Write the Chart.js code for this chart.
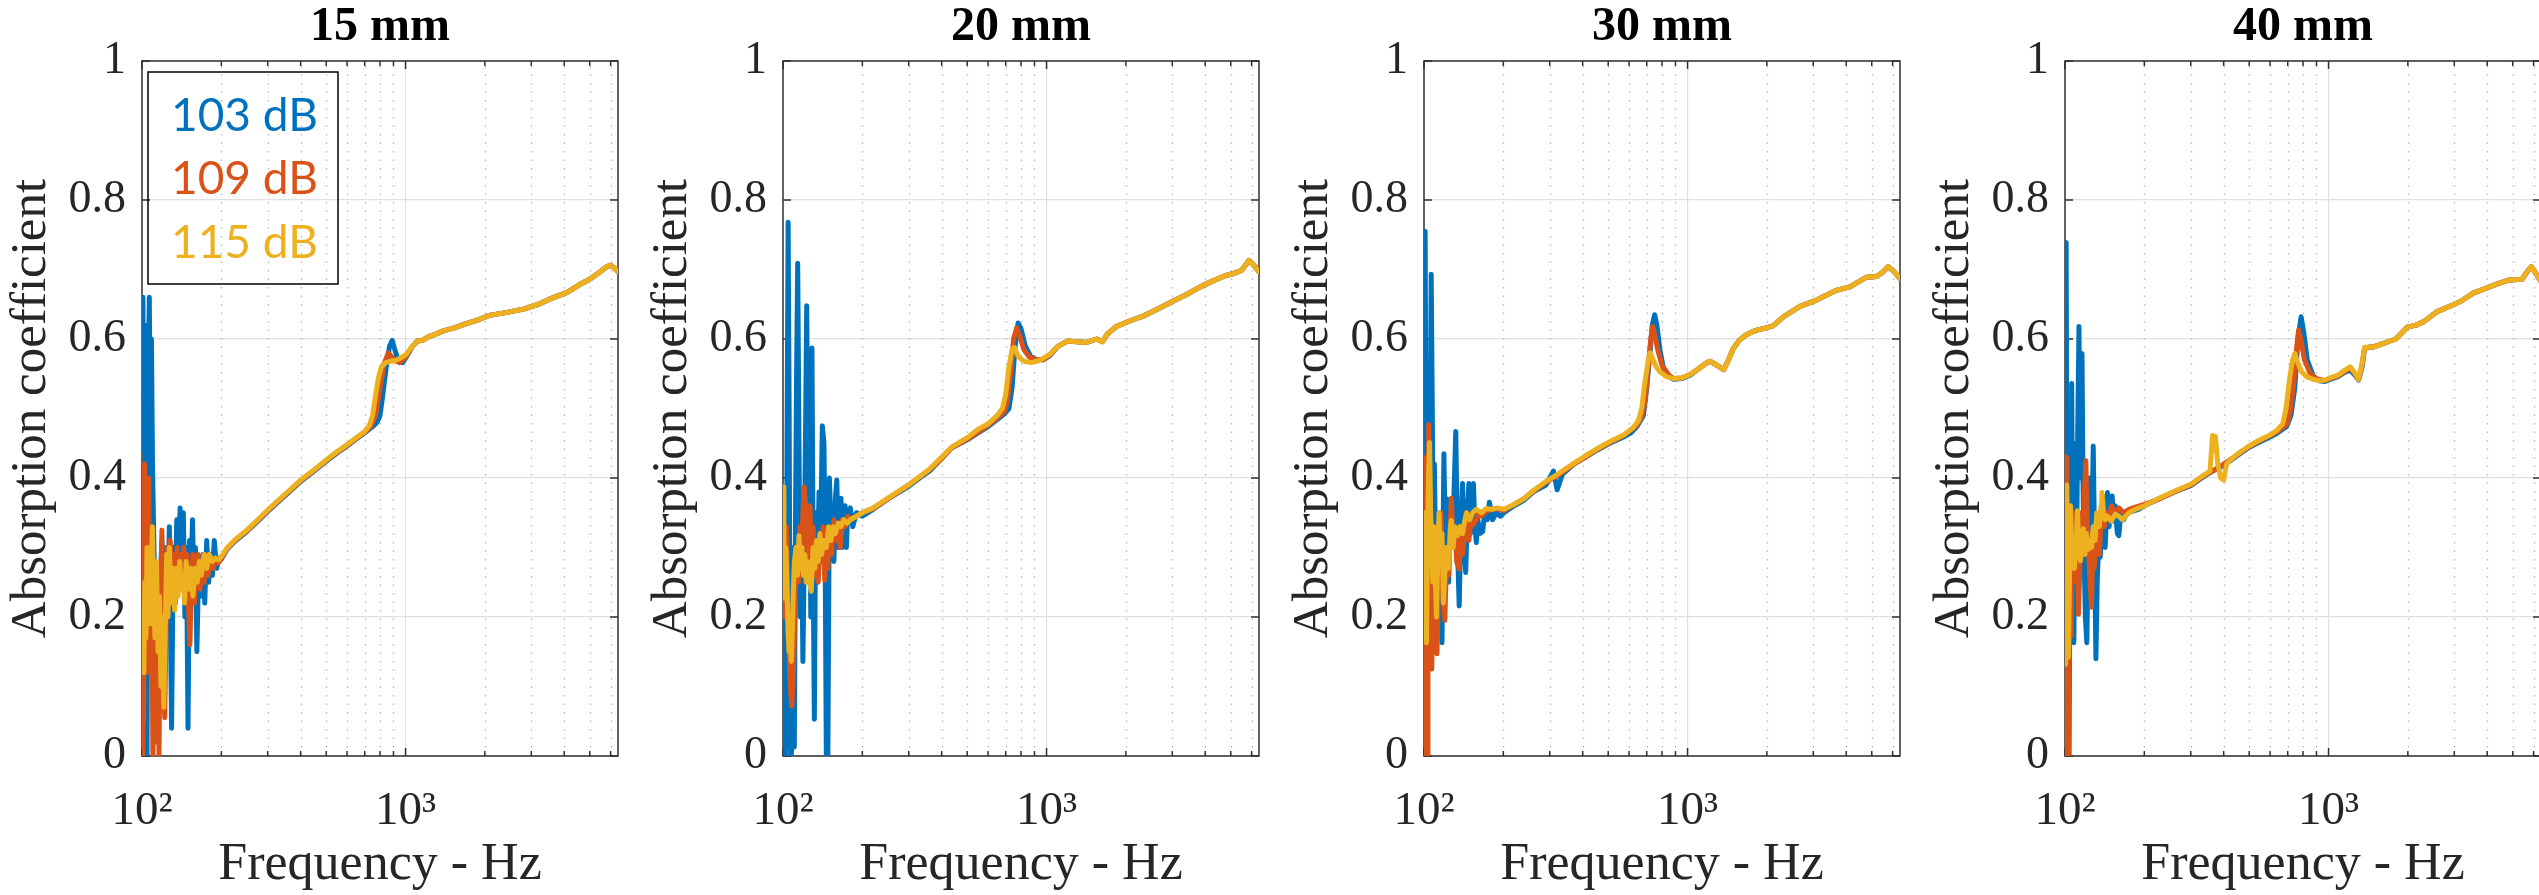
<!DOCTYPE html>
<html><head><meta charset="utf-8">
<style>
html,body{margin:0;padding:0;background:#fff;overflow:hidden;width:2539px;height:895px;position:relative}
.p{position:absolute;top:0;width:641px;height:895px}
</style>
<script src="https://cdn.jsdelivr.net/npm/chart.js@4.4.1/dist/chart.umd.min.js"></script>
</head><body>
<div class="p" style="left:0px"><canvas id="c0" width="641" height="895"></canvas></div>
<div class="p" style="left:641px"><canvas id="c1" width="641" height="895"></canvas></div>
<div class="p" style="left:1282px"><canvas id="c2" width="641" height="895"></canvas></div>
<div class="p" style="left:1923px"><canvas id="c3" width="641" height="895"></canvas></div>
<script>
const panelTitles = ['15 mm','20 mm','30 mm','40 mm'];
const seriesLabels = ['103 dB','109 dB','115 dB'];
const seriesColors = ['#0072BD','#D95319','#EDB120'];
const xMajorTicks = [100, 1000];
const xTickLabels = ['10²','10³'];
const xMinorTicks = [200,300,400,500,600,700,800,900,2000,3000,4000,5000,6000];
const yTicks = [0,0.2,0.4,0.6,0.8,1];
const yTickLabels = ['0','0.2','0.4','0.6','0.8','1'];
const xMin = 100, xMax = 6400;

// ---- 15 mm ----
const p15_103 = [[100,0.48],[100.8,0.66],[101.6,0.44],[102.4,0.62],[103.4,0.3],[104.5,0],[105.6,0.55],[106.6,0.66],[107.6,0.43],[108.6,0.6],[109.6,0.42],[111,0.3],[112.5,0.17],[114,0.27],[115.5,0.13],[117,0.24],[119,0.31],[121,0.1],[123,0.3],[125,0.2],[127,0.33],[129.5,0.04],[131.5,0.3],[133.5,0.23],[135.5,0.34],[137.5,0.28],[139.5,0.357],[141.5,0.27],[143.5,0.35],[145.5,0.2],[147.5,0.3],[149.5,0.04],[151.5,0.31],[153.5,0.26],[155.5,0.34],[157.5,0.22],[159.5,0.3],[161.5,0.15],[164,0.27],[167,0.23],[170,0.29],[173,0.22],[176,0.31],[179,0.25],[182,0.29],[185,0.26],[188,0.31],[192,0.27],[196,0.285],[200,0.283],[210,0.297],[225,0.309],[250,0.323],[275,0.338],[300,0.352],[350,0.375],[400,0.395],[450,0.41],[500,0.424],[550,0.436],[600,0.446],[650,0.456],[700,0.465],[750,0.474],[780,0.48],[800,0.49],[820,0.52],[845,0.56],[870,0.59],[890,0.598],[910,0.585],[940,0.568],[975,0.566],[1010,0.575]];
const p15_109 = [[100,0],[100.7,0.3],[101.4,0.05],[102.2,0.42],[103,0.2],[104,0.38],[105,0.12],[106,0.4],[107.2,0.15],[108.5,0.32],[110,0],[111.5,0.2],[113,0.02],[114.5,0.25],[116,0],[117.5,0.22],[119,0.325],[120.5,0.12],[122,0.055],[123.5,0.2],[125,0.3],[126.5,0.22],[128,0.31],[130,0.25],[132,0.29],[134,0.22],[136,0.3],[138,0.26],[140,0.29],[142,0.24],[144,0.3],[146,0.26],[148,0.29],[150,0.22],[152,0.16],[154,0.25],[156,0.29],[158,0.22],[160,0.28],[163,0.29],[166,0.24],[169,0.28],[172,0.25],[175,0.29],[178,0.26],[182,0.28],[186,0.27],[190,0.28],[195,0.278],[200,0.284],[210,0.298],[225,0.31],[250,0.324],[275,0.339],[300,0.353],[350,0.376],[400,0.396],[450,0.411],[500,0.425],[550,0.437],[600,0.447],[650,0.457],[700,0.466],[740,0.475],[770,0.49],[800,0.53],[830,0.565],[860,0.58],[880,0.576],[910,0.569],[950,0.566],[1000,0.574]];
const p15_115 = [[100,0.14],[100.8,0.2],[101.6,0.12],[102.5,0.25],[103.5,0.17],[104.5,0.3],[105.5,0.2],[106.5,0.24],[107.5,0.19],[108.5,0.28],[109.5,0.33],[110.5,0.25],[112,0.17],[113.5,0.28],[115,0.15],[116.5,0.23],[118,0.1],[119.5,0.2],[121,0.07],[122.5,0.18],[124,0.29],[125.5,0.2],[127,0.3],[129,0.22],[131,0.27],[133,0.21],[135,0.27],[137,0.23],[139,0.28],[141,0.24],[143,0.26],[145,0.22],[147,0.28],[150,0.24],[153,0.27],[156,0.23],[159,0.27],[162,0.25],[165,0.28],[168,0.26],[172,0.29],[176,0.27],[180,0.29],[185,0.28],[190,0.285],[195,0.282],[200,0.287],[210,0.299],[225,0.311],[250,0.325],[275,0.34],[300,0.354],[350,0.377],[400,0.397],[450,0.412],[500,0.426],[550,0.438],[600,0.448],[650,0.458],[700,0.467],[730,0.476],[750,0.49],[770,0.52],[790,0.545],[810,0.56],[840,0.566],[880,0.568],[930,0.57],[1000,0.577]];
const tail15 = [[1060,0.589],[1110,0.597],[1160,0.598],[1220,0.603],[1300,0.607],[1400,0.612],[1530,0.616],[1700,0.622],[1900,0.628],[2080,0.634],[2400,0.638],[2800,0.643],[3200,0.65],[3500,0.657],[4100,0.667],[4560,0.678],[5000,0.686],[5400,0.695],[5800,0.704],[6000,0.706],[6200,0.702],[6400,0.697]];

// ---- 20 mm ----
const p20_103 = [[100,0.33],[100.8,0.05],[101.6,0],[102.6,0],[103.6,0.45],[104.6,0.768],[105.5,0.5],[106.4,0.1],[107.4,0],[108.4,0.02],[109.4,0.3],[110.4,0.013],[111.6,0.35],[112.6,0.55],[113.7,0.709],[115,0.45],[116.3,0.2],[117.6,0.32],[119,0.136],[120.5,0.3],[122,0.5],[123,0.648],[124.5,0.4],[126,0.467],[127.5,0.2],[128.8,0.587],[130,0.3],[131.5,0.053],[133,0.35],[135,0.25],[137,0.38],[139,0.32],[141,0.475],[143,0.45],[144.5,0.3],[146,0],[148,0],[150,0.4],[152,0.33],[154,0.36],[156,0.28],[158,0.37],[160,0.397],[162,0.3],[164,0.33],[166,0.371],[168,0.3],[170,0.35],[172,0.36],[174,0.3],[176,0.35],[180,0.357],[184,0.33],[190,0.35],[200,0.345],[220,0.355],[250,0.37],[300,0.388],[330,0.4],[360,0.41],[400,0.428],[435,0.443],[500,0.455],[550,0.465],[600,0.474],[650,0.484],[690,0.492],[720,0.5],[740,0.53],[760,0.59],[780,0.623],[800,0.615],[830,0.59],[870,0.575],[920,0.57],[970,0.57],[1030,0.576]];
const p20_109 = [[100,0.205],[101,0.3],[102,0.2],[103,0.33],[104,0.25],[105,0.18],[106,0.12],[107,0.09],[108,0.072],[109,0.1],[110,0.15],[111.5,0.25],[113,0.3],[114.5,0.25],[116,0.33],[117.5,0.28],[119,0.35],[120.5,0.387],[122,0.3],[123.5,0.34],[125,0.27],[126.5,0.36],[128,0.3],[130,0.33],[132,0.26],[134,0.3],[136,0.25],[138,0.31],[140,0.28],[142,0.33],[144,0.253],[146,0.3],[148,0.27],[150,0.33],[153,0.29],[156,0.34],[159,0.31],[162,0.33],[165,0.3],[168,0.34],[172,0.33],[176,0.345],[180,0.34],[190,0.345],[200,0.35],[220,0.356],[250,0.37],[300,0.39],[360,0.412],[400,0.428],[435,0.443],[500,0.456],[550,0.466],[600,0.476],[650,0.486],[690,0.495],[710,0.51],[730,0.55],[750,0.6],[770,0.616],[790,0.605],[820,0.585],[860,0.574],[920,0.57],[970,0.57],[1030,0.577]];
const p20_115 = [[100,0.387],[100.8,0.3],[101.6,0.227],[102.5,0.3],[103.5,0.25],[104.5,0.18],[105.5,0.15],[106.5,0.2],[107.5,0.136],[108.5,0.18],[109.5,0.24],[110.5,0.28],[112,0.3],[113.5,0.26],[115,0.317],[116.5,0.27],[118,0.3],[119.5,0.26],[121,0.29],[122.5,0.25],[124,0.28],[126,0.25],[128,0.237],[130,0.3],[132,0.27],[134,0.31],[136,0.28],[138,0.32],[140,0.29],[143,0.31],[146,0.3],[149,0.33],[152,0.31],[155,0.33],[158,0.32],[162,0.335],[166,0.33],[170,0.34],[175,0.335],[180,0.34],[190,0.345],[200,0.35],[220,0.357],[250,0.371],[300,0.39],[360,0.413],[400,0.43],[435,0.444],[500,0.458],[550,0.47],[600,0.478],[650,0.49],[680,0.5],[700,0.52],[720,0.56],[740,0.585],[755,0.588],[780,0.575],[820,0.568],[870,0.566],[920,0.568],[970,0.572],[1030,0.578]];
const tail20 = [[1100,0.589],[1200,0.597],[1300,0.596],[1420,0.595],[1550,0.6],[1630,0.596],[1700,0.607],[1840,0.618],[2100,0.627],[2330,0.633],[2700,0.645],[3000,0.654],[3400,0.664],[3830,0.675],[4300,0.684],[4760,0.691],[5200,0.695],[5500,0.699],[5860,0.713],[6100,0.707],[6400,0.697]];

// ---- 30 mm ----
const p30_103 = [[100,0.333],[100.6,0.6],[101,0.755],[101.8,0.4],[102.6,0.2],[103.5,0.5],[104.5,0.3],[105.5,0.45],[106.5,0.693],[107.5,0.5],[108.5,0.3],[109.5,0.42],[111,0.25],[112.5,0.35],[114,0.2],[115.5,0.3],[117,0.163],[118,0.3],[119,0.435],[120.5,0.3],[122,0.37],[124,0.25],[126,0.35],[128,0.3],[130,0.38],[132,0.467],[134,0.3],[136,0.216],[138,0.33],[140,0.392],[142,0.3],[144,0.264],[146,0.35],[148,0.392],[150,0.32],[152,0.36],[154,0.392],[156,0.33],[158,0.307],[160,0.34],[163,0.32],[167,0.323],[170,0.35],[174,0.34],[177,0.365],[182,0.34],[188,0.35],[195,0.345],[201,0.35],[220,0.36],[239,0.368],[260,0.38],[290,0.39],[310,0.41],[320,0.383],[335,0.405],[370,0.42],[410,0.43],[453,0.44],[500,0.449],[572,0.459],[610,0.465],[643,0.474],[680,0.49],[700,0.53],[720,0.58],[735,0.62],[750,0.635],[765,0.62],[785,0.585],[812,0.556],[850,0.546],[885,0.542],[950,0.543],[1024,0.548]];
const p30_109 = [[100,0.429],[100.6,0.3],[101.3,0.1],[102,0],[102.8,0],[103.5,0.3],[104.2,0.477],[105,0.35],[106,0.2],[107,0.125],[108.5,0.25],[110,0.2],[112,0.147],[114,0.28],[116,0.35],[118,0.25],[120,0.195],[122,0.3],[124,0.26],[126,0.34],[127,0.371],[129,0.3],[131,0.33],[133,0.28],[136,0.269],[138,0.32],[140,0.29],[143,0.33],[145,0.35],[148,0.31],[151,0.34],[154,0.333],[158,0.34],[161,0.35],[165,0.345],[170,0.35],[175,0.353],[182,0.355],[190,0.356],[201,0.353],[220,0.362],[239,0.37],[260,0.381],[290,0.394],[320,0.403],[370,0.42],[410,0.43],[453,0.441],[500,0.45],[572,0.461],[643,0.476],[670,0.488],[690,0.51],[710,0.56],[725,0.6],[738,0.618],[752,0.605],[770,0.585],[800,0.562],[850,0.548],[885,0.543],[950,0.544],[1024,0.549]];
const p30_115 = [[100,0.259],[100.7,0.35],[101.4,0.2],[102.2,0.163],[103,0.3],[104,0.4],[105,0.451],[106,0.35],[107,0.3],[108,0.25],[109,0.33],[110,0.28],[111.5,0.2],[113,0.3],[114,0.35],[115.5,0.28],[117,0.32],[118.5,0.22],[120,0.264],[122,0.3],[124,0.27],[126,0.33],[127,0.339],[129,0.3],[131,0.33],[134,0.317],[137,0.33],[140,0.32],[143,0.34],[145,0.35],[149,0.34],[153,0.35],[158,0.355],[165,0.35],[172,0.356],[180,0.355],[190,0.357],[201,0.355],[220,0.362],[239,0.37],[260,0.382],[290,0.395],[320,0.405],[370,0.421],[410,0.432],[453,0.442],[500,0.451],[572,0.462],[620,0.472],[650,0.482],[670,0.5],[690,0.54],[710,0.57],[721,0.58],[740,0.57],[760,0.56],[790,0.552],[830,0.546],[885,0.543],[950,0.544],[1024,0.549]];
const tail30 = [[1100,0.557],[1185,0.566],[1220,0.568],[1280,0.563],[1372,0.556],[1430,0.57],[1490,0.586],[1570,0.598],[1670,0.606],[1800,0.612],[1940,0.615],[2110,0.619],[2310,0.632],[2670,0.647],[3090,0.656],[3670,0.67],[4130,0.675],[4780,0.689],[5220,0.69],[5500,0.696],[5770,0.704],[6000,0.699],[6400,0.687]];

// ---- 40 mm ----
const p40_103 = [[100,0.3],[100.5,0.5],[101,0.739],[101.8,0.3],[102.5,0],[103.5,0],[104.5,0.25],[105.5,0.4],[106,0.536],[107,0.3],[108,0.163],[109,0.3],[110,0.45],[111,0.35],[112,0.5],[113,0.618],[114,0.4],[115,0.45],[116,0.579],[117,0.4],[118,0.3],[119.5,0.2],[121,0.163],[122.5,0.3],[124,0.4],[126,0.3],[128,0.446],[129.5,0.3],[131,0.14],[132.5,0.25],[134,0.3],[136,0.286],[138,0.33],[140,0.35],[142,0.3],[145,0.379],[147,0.33],[149,0.36],[151,0.374],[153,0.338],[155,0.36],[158,0.32],[160,0.317],[163,0.35],[167,0.34],[172,0.35],[180,0.352],[190,0.355],[200,0.36],[225,0.369],[260,0.38],[300,0.389],[339,0.403],[363,0.41],[400,0.418],[450,0.432],[494,0.443],[550,0.452],[600,0.459],[636,0.464],[693,0.474],[720,0.49],[745,0.53],[765,0.6],[787,0.632],[805,0.61],[830,0.57],[877,0.546],[920,0.54],[970,0.539],[1030,0.543],[1087,0.546],[1150,0.552],[1208,0.555],[1260,0.548],[1300,0.541],[1340,0.56],[1370,0.587]];
const p40_109 = [[100,0],[100.5,0.132],[101,0.3],[101.5,0.43],[102,0.2],[102.8,0],[103.5,0.1],[104.5,0.25],[105.5,0.173],[106.5,0.3],[107.5,0.25],[108.5,0.35],[109.5,0.26],[111,0.3],[112.5,0.204],[114,0.28],[115.5,0.35],[117,0.3],[118.5,0.38],[120,0.425],[121.5,0.33],[123,0.29],[124.5,0.25],[126,0.214],[127.5,0.3],[129,0.27],[131,0.31],[133,0.33],[135,0.29],[137,0.34],[139,0.374],[141,0.33],[143,0.35],[146,0.34],[150,0.36],[155,0.35],[160,0.357],[167,0.35],[175,0.355],[185,0.358],[200,0.362],[225,0.369],[260,0.38],[300,0.39],[339,0.404],[363,0.41],[400,0.42],[450,0.433],[494,0.444],[550,0.454],[600,0.461],[636,0.466],[693,0.477],[715,0.495],[740,0.54],[758,0.59],[770,0.613],[785,0.6],[810,0.57],[850,0.551],[900,0.543],[970,0.54],[1030,0.544],[1087,0.547],[1150,0.553],[1208,0.558],[1260,0.55],[1300,0.542],[1340,0.562],[1370,0.586]];
const p40_115 = [[100,0.132],[100.5,0.2],[101,0.3],[101.5,0.39],[102.2,0.25],[103,0.142],[104,0.25],[105,0.36],[106,0.3],[107,0.28],[108.5,0.27],[110,0.3],[111.5,0.353],[113,0.3],[114.5,0.281],[116,0.3],[117.5,0.327],[119,0.29],[120.5,0.32],[122,0.297],[124,0.31],[126,0.3],[128,0.33],[130,0.31],[132,0.35],[135,0.33],[137,0.36],[138,0.379],[140,0.35],[142,0.34],[145,0.345],[150,0.338],[155,0.348],[160,0.345],[165,0.34],[175,0.35],[185,0.355],[200,0.36],[225,0.37],[260,0.381],[300,0.391],[339,0.405],[355,0.41],[363,0.461],[368,0.44],[372,0.46],[380,0.42],[390,0.4],[400,0.397],[410,0.42],[430,0.428],[450,0.434],[494,0.445],[550,0.455],[600,0.462],[636,0.468],[670,0.478],[690,0.5],[710,0.54],[730,0.57],[745,0.579],[765,0.565],[790,0.553],[830,0.545],[877,0.542],[920,0.54],[970,0.541],[1030,0.545],[1087,0.548],[1150,0.555],[1208,0.56],[1260,0.551],[1300,0.542],[1340,0.565],[1370,0.588]];
const tail40 = [[1420,0.588],[1490,0.589],[1570,0.592],[1650,0.595],[1800,0.6],[1990,0.617],[2150,0.62],[2300,0.625],[2570,0.639],[2960,0.649],[3200,0.655],[3540,0.666],[4080,0.675],[4500,0.681],[4860,0.685],[5420,0.686],[5700,0.698],[5880,0.704],[6100,0.695],[6400,0.683]];

const panels = [
  {series:[p15_103,p15_109,p15_115], tail:tail15},
  {series:[p20_103,p20_109,p20_115], tail:tail20},
  {series:[p30_103,p30_109,p30_115], tail:tail30},
  {series:[p40_103,p40_109,p40_115], tail:tail40}
];

Chart.defaults.font.family = "'Liberation Serif','Times New Roman',serif";
Chart.defaults.color = '#262626';

const framePlugin = {
  id:'frame',
  beforeDatasetsDraw(chart){
    const {ctx, chartArea:a, scales:{x,y}} = chart;
    ctx.save();
    ctx.lineWidth = 1.3; ctx.strokeStyle = '#b8b8b8'; ctx.setLineDash([1.5,7]);
    xMinorTicks.forEach(v=>{
      const px = Math.round(x.getPixelForValue(v))+0.5;
      ctx.beginPath(); ctx.moveTo(px,a.bottom); ctx.lineTo(px,a.top); ctx.stroke();
    });
    ctx.setLineDash([]);
    ctx.strokeStyle = '#303030'; ctx.lineWidth = 1.5;
    ctx.strokeRect(a.left, a.top, a.right-a.left, a.bottom-a.top);
    ctx.beginPath();
    yTicks.forEach(v=>{
      const py = y.getPixelForValue(v);
      ctx.moveTo(a.left,py); ctx.lineTo(a.left+8,py);
      ctx.moveTo(a.right,py); ctx.lineTo(a.right-8,py);
    });
    xMajorTicks.concat(xMinorTicks).forEach(v=>{
      const px = x.getPixelForValue(v);
      const L = xMajorTicks.includes(v) ? 8 : 5;
      ctx.moveTo(px,a.bottom); ctx.lineTo(px,a.bottom-L);
      ctx.moveTo(px,a.top); ctx.lineTo(px,a.top+L);
    });
    ctx.stroke();
    ctx.restore();
  }
};

const legendPlugin = {
  id:'dbLegend',
  afterDatasetsDraw(chart){
    const {ctx, chartArea:a} = chart;
    ctx.save();
    ctx.strokeStyle = '#000'; ctx.lineWidth = 1.5;
    ctx.strokeRect(a.left+6, a.top+11, 190, 212);
    ctx.font = "46px Lato, 'Open Sans', sans-serif";
    ctx.textAlign = 'left'; ctx.textBaseline = 'middle';
    chart.data.datasets.forEach((d,k)=>{
      ctx.fillStyle = d.borderColor;
      ctx.fillText(d.label, a.left+29, a.top+55+k*63.5);
    });
    ctx.restore();
  }
};

panels.forEach((p,i)=>{
  const datasets = p.series.map((s,k)=>({
    label: seriesLabels[k],
    data: s.concat(p.tail).map(([fx,v])=>({x:fx, y:v})),
    borderColor: seriesColors[k],
    backgroundColor: seriesColors[k],
    borderWidth: 5,
    pointRadius: 0,
    tension: 0,
    borderJoinStyle: 'round',
    borderCapStyle: 'round',
    order: 3-k,
    clip: 0
  }));
  new Chart(document.getElementById('c'+i), {
    type:'line',
    data:{datasets},
    plugins: i===0 ? [framePlugin, legendPlugin] : [framePlugin],
    options:{
      responsive:false, animation:false, devicePixelRatio:1,
      layout:{padding:{left:0,right:23,top:0,bottom:0}},
      plugins:{
        legend:{display:false}, tooltip:{enabled:false},
        title:{display:true, text:panelTitles[i], fullSize:false, color:'#000',
          font:{size:48, weight:'bold', lineHeight:1}, padding:{top:4,bottom:9}}
      },
      scales:{
        x:{
          type:'logarithmic', min:xMin, max:xMax,
          afterBuildTicks:(s)=>{ s.ticks = xMajorTicks.concat(xMinorTicks).sort((a,b)=>a-b).map(v=>({value:v, major:xMajorTicks.includes(v)})); },
          afterFit:(s)=>{ s.height = 139; },
          grid:{drawTicks:false, lineWidth:1.2,
            color:(c)=> (c.tick && c.tick.value===1000) ? '#e0e0e0' : 'rgba(0,0,0,0)'},
          border:{display:false},
          ticks:{autoSkip:false, maxRotation:0, minRotation:0, padding:27, font:{size:47}, color:'#262626',
            callback:(v)=>{ const j = xMajorTicks.indexOf(v); return j>=0 ? xTickLabels[j] : ''; }},
          title:{display:true, text:'Frequency - Hz', color:'#262626', font:{size:52, lineHeight:1.15}, padding:{top:0,bottom:0}}
        },
        y:{
          min:0, max:1,
          afterBuildTicks:(s)=>{ s.ticks = yTicks.map(v=>({value:v})); },
          afterFit:(s)=>{ s.width = 142; },
          grid:{drawTicks:false, lineWidth:1.2, color:'#e0e0e0'},
          border:{display:false},
          ticks:{padding:16, font:{size:46}, color:'#262626',
            callback:(v)=>{ const j = yTicks.indexOf(v); return j>=0 ? yTickLabels[j] : ''; }},
          title:{display:true, text:'Absorption coefficient', color:'#262626', font:{size:51, lineHeight:1.2}, padding:{top:1,bottom:0}}
        }
      }
    }
  });
});
</script>
</body></html>
